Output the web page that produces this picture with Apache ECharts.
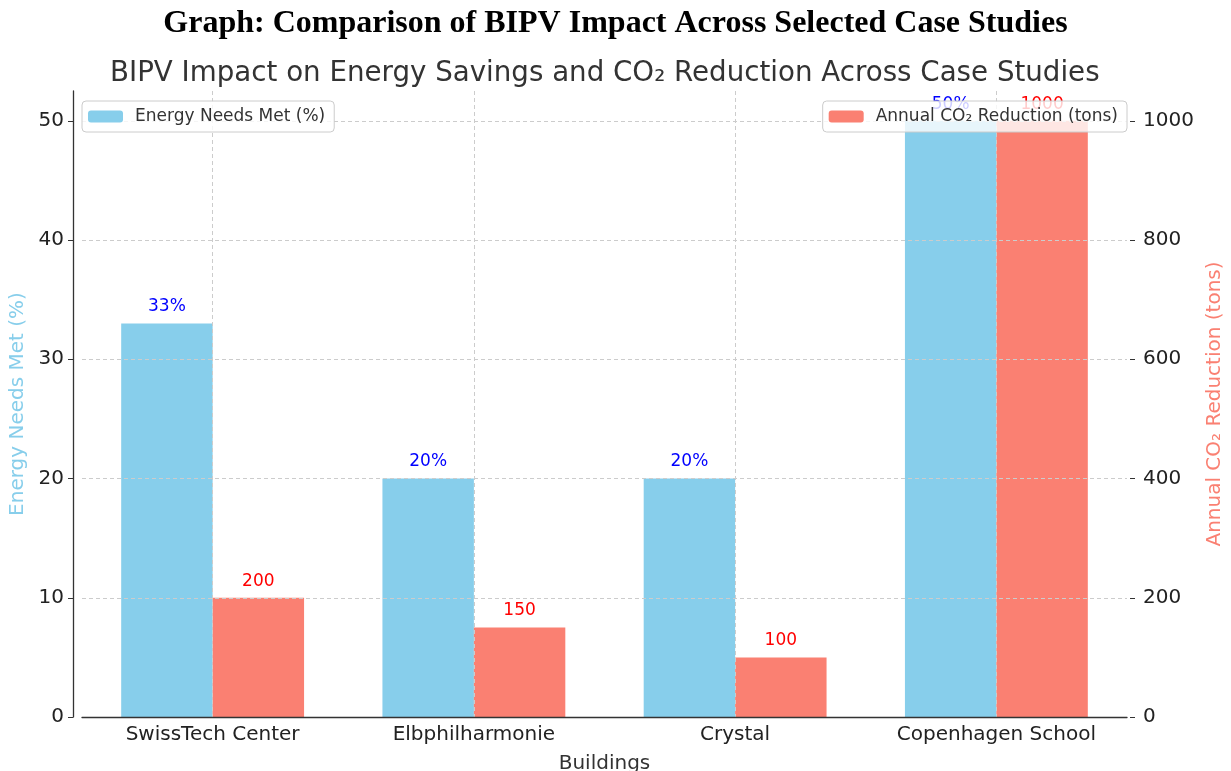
<!DOCTYPE html>
<html>
<head>
<meta charset="utf-8">
<script src="https://cdn.jsdelivr.net/npm/echarts@6/dist/echarts.min.js"></script>
<style>
html, body { margin: 0; padding: 0; background: #fff; }
#main { width: 1231px; height: 771px; }
</style>
</head>
<body>
<div id="main"></div>
<script>
var buildings = ['SwissTech Center', 'Elbphilharmonie', 'Crystal', 'Copenhagen School'];
var energyMet = [33, 20, 20, 50];
var co2Reduction = [200, 150, 100, 1000];
var energyTicks = [0, 10, 20, 30, 40, 50];
var co2Ticks = [0, 200, 400, 600, 800, 1000];

var chart = echarts.init(document.getElementById('main'));
var font = 'DejaVu Sans';

var option = {
    backgroundColor: '#fff',
    animation: false,
    title: [{
        text: 'Graph: Comparison of BIPV Impact Across Selected Case Studies',
        left: 'center',
        top: 3,
        textStyle: { fontFamily: 'Liberation Serif', fontWeight: 'bold', fontSize: 32, color: '#000' }
    }, {
        text: 'BIPV Impact on Energy Savings and CO\u2082 Reduction Across Case Studies',
        left: 105,
        top: 55,
        textStyle: { fontFamily: font, fontWeight: 'normal', fontSize: 27.7, color: '#333' }
    }],
    legend: [{
        data: ['Energy Needs Met (%)'],
        left: 82,
        top: 101,
        padding: [7, 9, 7, 6],
        itemWidth: 35,
        itemHeight: 12,
        itemGap: 10,
        borderColor: '#ccc',
        borderWidth: 1,
        borderRadius: 4,
        backgroundColor: 'rgba(255,255,255,0.8)',
        textStyle: { fontFamily: font, fontSize: 17, color: '#333', padding: [0, 0, 0, 7] },
        z: 10
    }, {
        data: ['Annual CO\u2082 Reduction (tons)'],
        right: 104,
        top: 101,
        padding: [7, 9, 7, 6],
        itemWidth: 35,
        itemHeight: 12,
        borderColor: '#ccc',
        borderWidth: 1,
        borderRadius: 4,
        backgroundColor: 'rgba(255,255,255,0.8)',
        textStyle: { fontFamily: font, fontSize: 17, color: '#333', padding: [0, 0, 0, 7] },
        z: 10
    }],
    grid: { left: 82, right: 104, top: 91, bottom: 54, containLabel: false, outerBoundsMode: 'none' },
    xAxis: {
        type: 'category',
        data: buildings,
        z: 5,
        name: 'Buildings',
        nameLocation: 'middle',
        nameGap: 37,
        nameTextStyle: { fontFamily: font, fontSize: 20, color: '#333' },
        axisLine: { lineStyle: { color: '#333', width: 1.3 } },
        axisTick: { alignWithLabel: true, length: 5, lineStyle: { color: '#333' } },
        axisLabel: { fontFamily: font, fontSize: 20, color: '#222', margin: 8 },
        splitLine: { show: true, alignWithLabel: true, lineStyle: { color: '#ccc', type: [4, 3], width: 1 } }
    },
    yAxis: [{
        type: 'value',
        min: 0,
        max: 52.5,
        interval: 10,
        offset: 9,
        z: 5,
        name: 'Energy Needs Met (%)',
        nameLocation: 'middle',
        nameRotate: 90,
        nameGap: 43,
        nameTextStyle: { fontFamily: font, fontSize: 20, color: '#87CEEB' },
        axisLine: { show: true, lineStyle: { color: '#333', width: 1.3 } },
        axisTick: { show: true, length: 5, customValues: energyTicks, lineStyle: { color: '#333' } },
        axisLabel: { fontFamily: font, fontSize: 20, color: '#222', margin: 9, customValues: energyTicks },
        splitLine: { show: true, lineStyle: { color: '#ccc', type: [4, 3], width: 1 } }
    }, {
        type: 'value',
        min: 0,
        max: 1050,
        interval: 200,
        position: 'right',
        offset: 3,
        z: 5,
        name: 'Annual CO\u2082 Reduction (tons)',
        nameLocation: 'middle',
        nameRotate: 90,
        nameGap: 74,
        nameTextStyle: { fontFamily: font, fontSize: 20, color: '#FA8072' },
        axisLine: { show: false },
        axisTick: { show: true, length: 5, customValues: co2Ticks, lineStyle: { color: '#333' } },
        axisLabel: {
            fontFamily: font, fontSize: 20, color: '#222', margin: 13, customValues: co2Ticks,
            formatter: function (v) { return String(v); }
        },
        splitLine: { show: false }
    }],
    series: [{
        name: 'Energy Needs Met (%)',
        type: 'bar',
        yAxisIndex: 0,
        data: energyMet,
        barWidth: '35%',
        barGap: '0%',
        itemStyle: { color: '#87CEEB' },
        label: {
            show: true,
            position: 'top',
            distance: 8,
            formatter: '{c}%',
            fontFamily: font,
            fontSize: 17,
            color: '#0000ff'
        }
    }, {
        name: 'Annual CO\u2082 Reduction (tons)',
        type: 'bar',
        yAxisIndex: 1,
        data: co2Reduction,
        barWidth: '35%',
        barGap: '0%',
        itemStyle: { color: '#FA8072' },
        label: {
            show: true,
            position: 'top',
            distance: 8,
            fontFamily: font,
            fontSize: 17,
            color: '#ff0000'
        }
    }]
};

chart.setOption(option);
</script>
</body>
</html>
